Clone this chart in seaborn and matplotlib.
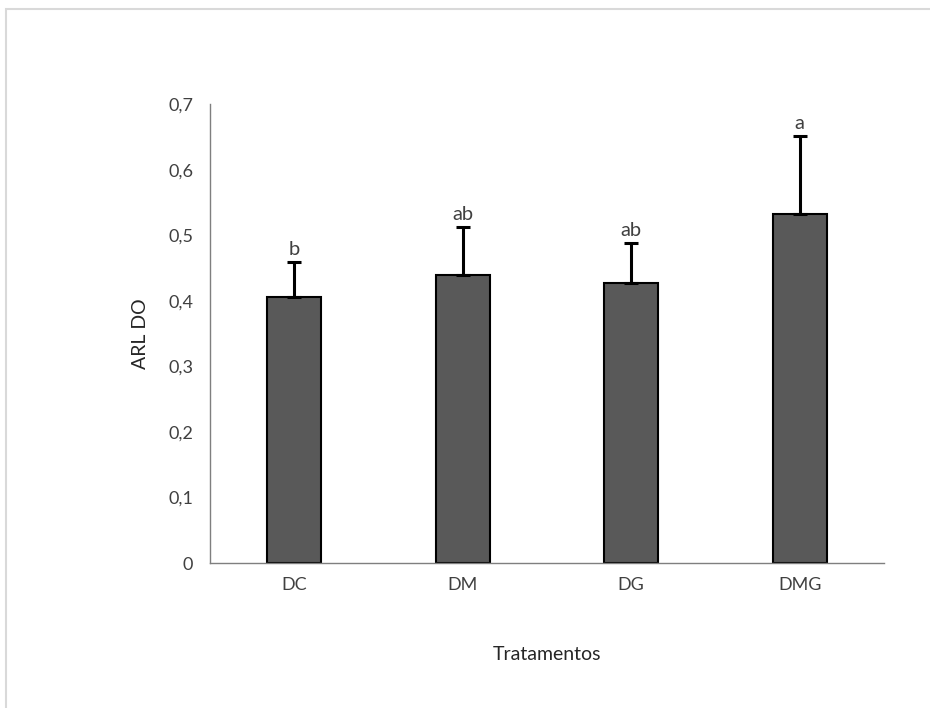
import seaborn as sns
import matplotlib.pyplot as plt
import matplotlib.patches as mpatches
from matplotlib.ticker import FuncFormatter
import numpy as np
import pandas as pd

# Values
tratamentos = ['DC', 'DM', 'DG', 'DMG']
media = [0.405, 0.439, 0.427, 0.532]
desvio = [0.054, 0.073, 0.061, 0.119]
letras = ['b', 'ab', 'ab', 'a']

df = pd.DataFrame({'Tratamentos': tratamentos, 'ARL DO': media})

sns.set_style('white')
plt.rcParams['font.family'] = ['Lato', 'DejaVu Sans']

fig = plt.figure(figsize=(9.3, 7.08), dpi=100)
ax = fig.add_axes([0.2258, 0.2048, 0.7247, 0.6482])

# Light grey frame around the chart area, as in the Excel export
fig.patches.append(mpatches.Rectangle((5.5 / 930, -0.1), 1.2, 1 - 8.5 / 708 + 0.1,
                                      transform=fig.transFigure, fill=False,
                                      edgecolor='#d9d9d9', linewidth=1.5))

sns.barplot(data=df, x='Tratamentos', y='ARL DO', color='#595959', width=0.32,
            edgecolor='black', linewidth=1.5, saturation=1, errorbar=None, ax=ax)

# Only the upper half of the error bars
x = np.arange(len(tratamentos))
ax.errorbar(x, media, yerr=[np.zeros(len(media)), desvio], fmt='none',
            ecolor='black', elinewidth=2.2, capsize=5, capthick=2.2)

for xi, m, d, l in zip(x, media, desvio, letras):
    ax.text(xi, m + d + 0.006, l, ha='center', va='bottom', fontsize=14.5, color='#404040')

ax.set_ylim(0, 0.7)
ax.set_xlim(-0.5, 3.5)
ax.set_yticks(np.arange(0, 0.71, 0.1))
ax.yaxis.set_major_formatter(FuncFormatter(lambda v, p: '0' if v == 0 else f'{v:.1f}'.replace('.', ',')))
ax.tick_params(axis='both', length=0, labelsize=13, colors='#404040', pad=12)
ax.tick_params(axis='x', pad=10)

for s in ['top', 'right']:
    ax.spines[s].set_visible(False)
for s in ['left', 'bottom']:
    ax.spines[s].set_color('#7f7f7f')
    ax.spines[s].set_linewidth(1)

ax.set_xlabel('Tratamentos', fontsize=14, color='#262626', labelpad=38)
ax.set_ylabel('ARL DO', fontsize=14, color='#262626', labelpad=14)

fig.savefig('out.png', dpi=100, facecolor='white')
